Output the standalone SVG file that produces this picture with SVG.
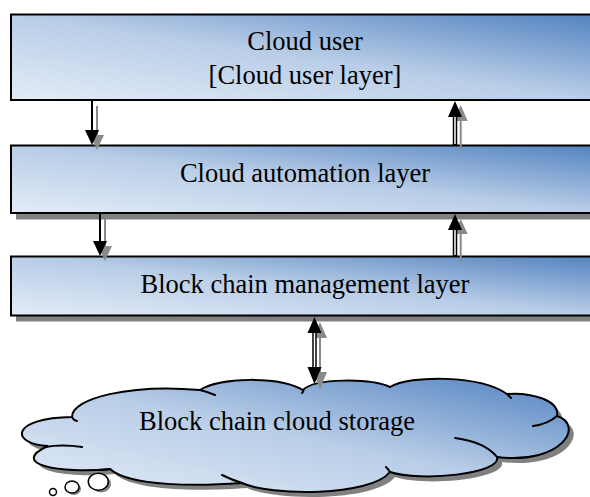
<svg xmlns="http://www.w3.org/2000/svg" width="590" height="497" viewBox="0 0 590 497">
<style>
.box{stroke:#000;stroke-width:2;fill:url(#g)}
.sh{fill:#808080}
.t{font-family:"Liberation Serif","Times New Roman",serif;font-size:26.5px;fill:#000;text-anchor:middle}
.ln{stroke:#000;stroke-width:2;fill:none}
.hol{stroke:#000;stroke-width:4.5;fill:none}
.holw{stroke:#fff;stroke-width:1.5;fill:none}
.sl{stroke:#8a8a8a;stroke-width:2;fill:none}
.hb{fill:#000}
.hs{fill:#8a8a8a}
.cl{stroke:#000;stroke-width:2;fill:none;stroke-linecap:round}
</style>
<defs>
<linearGradient id="g" x1="0" y1="1" x2="1" y2="0">
<stop offset="0" stop-color="#e3ecf7"/>
<stop offset="0.5" stop-color="#b8cde7"/>
<stop offset="1" stop-color="#5282c0"/>
</linearGradient>
<path id="cloudp" d="M72,417 C72,398 130,384 200,390 C220,377 280,376 303,390 C315,378 370,378 390,387 C410,375 480,375 507,394 C530,392 560,400 557,416 C585,425 562,465 497,457 C502,474 420,482 390,472 C370,497 270,496 242,483 C200,486 130,487 110,469 C60,474 8,464 48,446 C10,444 10,418 72,417 Z"/>
</defs>
<g id="node-cloud-user">
<rect class="box" x="11" y="14.5" width="592" height="85.5"/>
<text class="t" x="305" y="50">Cloud user</text>
<text class="t" x="305" y="84">[Cloud user layer]</text>
</g>
<g id="node-cloud-automation">
<rect class="sh" x="16" y="151" width="592" height="68.5"/>
<rect class="box" x="11" y="145.5" width="592" height="67.5"/>
<text class="t" x="305" y="182">Cloud automation layer</text>
</g>
<g id="node-blockchain-management">
<rect class="sh" x="16" y="262" width="592" height="59.5"/>
<rect class="box" x="11" y="256.5" width="592" height="59"/>
<text class="t" x="305" y="293">Block chain management layer</text>
</g>
<g id="node-cloud-storage">
<use href="#cloudp" transform="translate(5,5)" fill="#808080"/>
<use href="#cloudp" fill="url(#g)" stroke="#000" stroke-width="2"/>
<path class="cl" d="M72,417 Q73,420 77,421"/>
<path class="cl" d="M45,447 Q62,444 82,447"/>
<path class="cl" d="M100,470 Q106,470 110,469"/>
<path class="cl" d="M200,390 Q208,392 215,395"/>
<path class="cl" d="M222,475 Q232,480 242,483"/>
<path class="cl" d="M390,472 Q388,469 386,467"/>
<path class="cl" d="M455,438 Q485,442 497,457"/>
<path class="cl" d="M533,426 Q548,424 557,416"/>
<path class="cl" d="M507,394 Q509,396 511,398"/>
<path class="cl" d="M303,390 Q304,391 302,393"/>
<ellipse cx="101" cy="484" rx="10" ry="8.5" fill="#808080"/>
<ellipse cx="98.3" cy="481.7" rx="10" ry="8.5" fill="#fff" stroke="#000" stroke-width="1.5"/>
<ellipse cx="74" cy="489" rx="7" ry="6" fill="#808080"/>
<ellipse cx="72" cy="487" rx="7" ry="6" fill="#fff" stroke="#000" stroke-width="1.5"/>
<circle cx="53" cy="492" r="3.5" fill="#fff" stroke="#000" stroke-width="1.5"/>
<text class="t" x="277" y="430">Block chain cloud storage</text>
</g>
<g id="connectors">
<line class="sl" x1="97" y1="106" x2="97" y2="136"/>
<polygon class="hs" points="90,135 104,135 97,150"/>
<line class="ln" x1="92" y1="101" x2="92" y2="131"/>
<polygon class="hb" points="85,130 99,130 92,145"/>

<line class="sl" x1="460.7" y1="150" x2="460.7" y2="120"/>
<polygon class="hs" points="453.7,121 467.7,121 460.7,105"/>
<line class="hol" x1="455" y1="145" x2="455" y2="116"/>
<line class="holw" x1="455" y1="144" x2="455" y2="117"/>
<polygon class="hb" points="448,117 462,117 455,101"/>

<line class="sl" x1="105" y1="219" x2="105" y2="247"/>
<polygon class="hs" points="98,246 112,246 105,261"/>
<line class="ln" x1="100" y1="214" x2="100" y2="242"/>
<polygon class="hb" points="93,241 107,241 100,256"/>

<line class="sl" x1="460.7" y1="262" x2="460.7" y2="233"/>
<polygon class="hs" points="453.7,234 467.7,234 460.7,219"/>
<line class="hol" x1="455" y1="256" x2="455" y2="229"/>
<line class="holw" x1="455" y1="255" x2="455" y2="230"/>
<polygon class="hb" points="448,230 462,230 455,214"/>

<line class="sl" x1="320" y1="337" x2="320" y2="373"/>
<polygon class="hs" points="313,338 327,338 320,322"/>
<polygon class="hs" points="313,372 327,372 320,389"/>
<line class="hol" x1="314.5" y1="332" x2="314.5" y2="368"/>
<line class="holw" x1="314.5" y1="333" x2="314.5" y2="367"/>
<polygon class="hb" points="307.5,333 321.5,333 314.5,317"/>
<polygon class="hb" points="307.5,367 321.5,367 314.5,384"/>
</g>
</svg>
